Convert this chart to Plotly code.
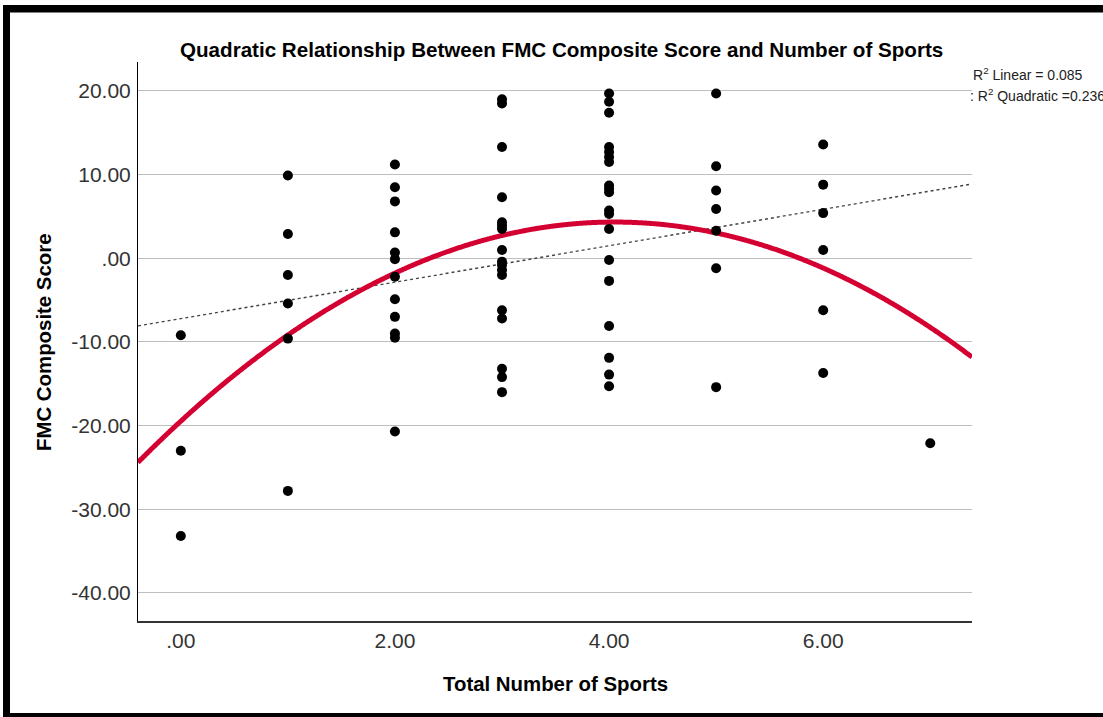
import numpy as np
import plotly.graph_objects as go

# ---- data ----
sports_levels = [0, 1, 2, 3, 4, 5, 6, 7]
scores_0 = [-9.2, -23.0, -33.2]
scores_1 = [9.9, 2.9, -2.0, -5.4, -9.6, -27.8]
scores_2 = [11.2, 8.5, 6.8, 3.1, 0.7, -0.1, -2.2, -4.9, -7.0, -9.0, -9.5, -20.7]
scores_3 = [19.0, 18.5, 13.3, 7.3, 4.3, 3.9, 3.5, 1.0, -0.4, -0.8, -1.4, -2.0,
            -6.2, -7.2, -13.2, -14.2, -16.0]
scores_4 = [19.7, 18.7, 17.4, 13.3, 12.7, 12.1, 11.5, 8.7, 8.3, 7.9, 5.7, 5.3,
            3.5, -0.2, -2.7, -8.1, -11.9, -13.9, -15.3]
scores_5 = [19.7, 11.0, 8.1, 5.9, 3.3, -1.2, -15.4]
scores_6 = [13.6, 8.8, 5.4, 1.0, -6.2, -13.7]
scores_7 = [-22.1]

y_tick_vals = [20, 10, 0, -10, -20, -30, -40]
y_tick_text = ["20.00", "10.00", ".00", "-10.00", "-20.00", "-30.00", "-40.00"]
x_tick_vals = [0, 2, 4, 6]
x_tick_text = [".00", "2.00", "4.00", "6.00"]

r2_linear = "0.085"
r2_quadratic = "0.236"

title_text = "Quadratic Relationship Between FMC Composite Score and Number of Sports"
x_title = "Total Number of Sports"
y_title = "FMC Composite Score"

# ---- build ----
groups = [scores_0, scores_1, scores_2, scores_3, scores_4, scores_5, scores_6, scores_7]
x = np.concatenate([[lvl] * len(g) for lvl, g in zip(sports_levels, groups)]).astype(float)
y = np.concatenate(groups).astype(float)

x_range = [-0.40, 7.39]
y_range = [-43.35, 23.46]

lin = np.polyfit(x, y, 1)
quad = np.polyfit(x, y, 2)
xf = np.linspace(x_range[0], x_range[1], 600)

W, H = 1103, 717
L, R, T, B = 138, 972, 62, 621

font = "Liberation Sans, Arial, sans-serif"

fig = go.Figure()
fig.add_trace(go.Scatter(x=xf, y=np.polyval(lin, xf), mode="lines",
                         line=dict(color="#444444", width=1.4, dash="dot"),
                         hoverinfo="skip"))
fig.add_trace(go.Scatter(x=xf, y=np.polyval(quad, xf), mode="lines",
                         line=dict(color="#D50032", width=5, shape="spline"),
                         hoverinfo="skip"))
fig.add_trace(go.Scatter(x=x, y=y, mode="markers",
                         marker=dict(color="black", size=10, line=dict(width=0))))

fig.update_layout(
    width=W, height=H, autosize=False,
    margin=dict(l=0, r=0, t=0, b=0),
    paper_bgcolor="white", plot_bgcolor="white",
    showlegend=False,
    font=dict(family=font, color="#333333", size=20),
    xaxis=dict(domain=[L / W, R / W], range=x_range, tickvals=x_tick_vals,
               ticktext=x_tick_text, showgrid=False, zeroline=False,
               showline=True, linecolor="#333333", linewidth=1.5, ticks="",
               ticklabelstandoff=0, tickfont=dict(size=21, color="#333333")),
    yaxis=dict(domain=[1 - B / H, 1 - T / H], range=y_range, tickvals=y_tick_vals,
               ticktext=y_tick_text, showgrid=True, gridcolor="#BEBEBE", gridwidth=1,
               zeroline=False, showline=True, linecolor="black", linewidth=1,
               ticks="", ticklabelstandoff=2, tickfont=dict(size=21, color="#333333")),
)

ann = [
    dict(text="<b>" + title_text + "</b>", x=561 / W, y=1 - 50 / H,
         font=dict(size=20.6, color="black")),
    dict(text="<b>" + x_title + "</b>", x=555 / W, y=1 - 684 / H,
         font=dict(size=20.4, color="black")),
    dict(text="<b>" + y_title + "</b>", x=44 / W, y=1 - 342 / H, textangle=-90,
         font=dict(size=20.4, color="black")),
]
for a in ann:
    a.update(xref="paper", yref="paper", showarrow=False, xanchor="center", yanchor="middle")
    fig.add_annotation(**a)

fig.add_annotation(text="R<sup>2</sup> Linear = " + r2_linear, xref="paper", yref="paper",
                   x=971 / W, y=1 - 74 / H, xanchor="left", yanchor="middle",
                   showarrow=False, font=dict(size=14, color="#222222"))
fig.add_annotation(text=": R<sup>2</sup> Quadratic =" + r2_quadratic, xref="paper", yref="paper",
                   x=968 / W, y=1 - 95 / H, xanchor="left", yanchor="middle",
                   showarrow=False, font=dict(size=14, color="#222222"))

# black frame around the picture
for x0, y0, x1, y1 in [(3, 5, W, 12.5), (3, 5, 10, H), (3, 713, W, H)]:
    fig.add_shape(type="rect", xref="paper", yref="paper",
                  x0=x0 / W, x1=x1 / W, y0=1 - y1 / H, y1=1 - y0 / H,
                  fillcolor="black", line=dict(width=0), layer="above")

fig.write_html("out.html", config={"displayModeBar": False},
               post_script="document.body.style.margin='0';document.body.style.overflow='hidden';")
